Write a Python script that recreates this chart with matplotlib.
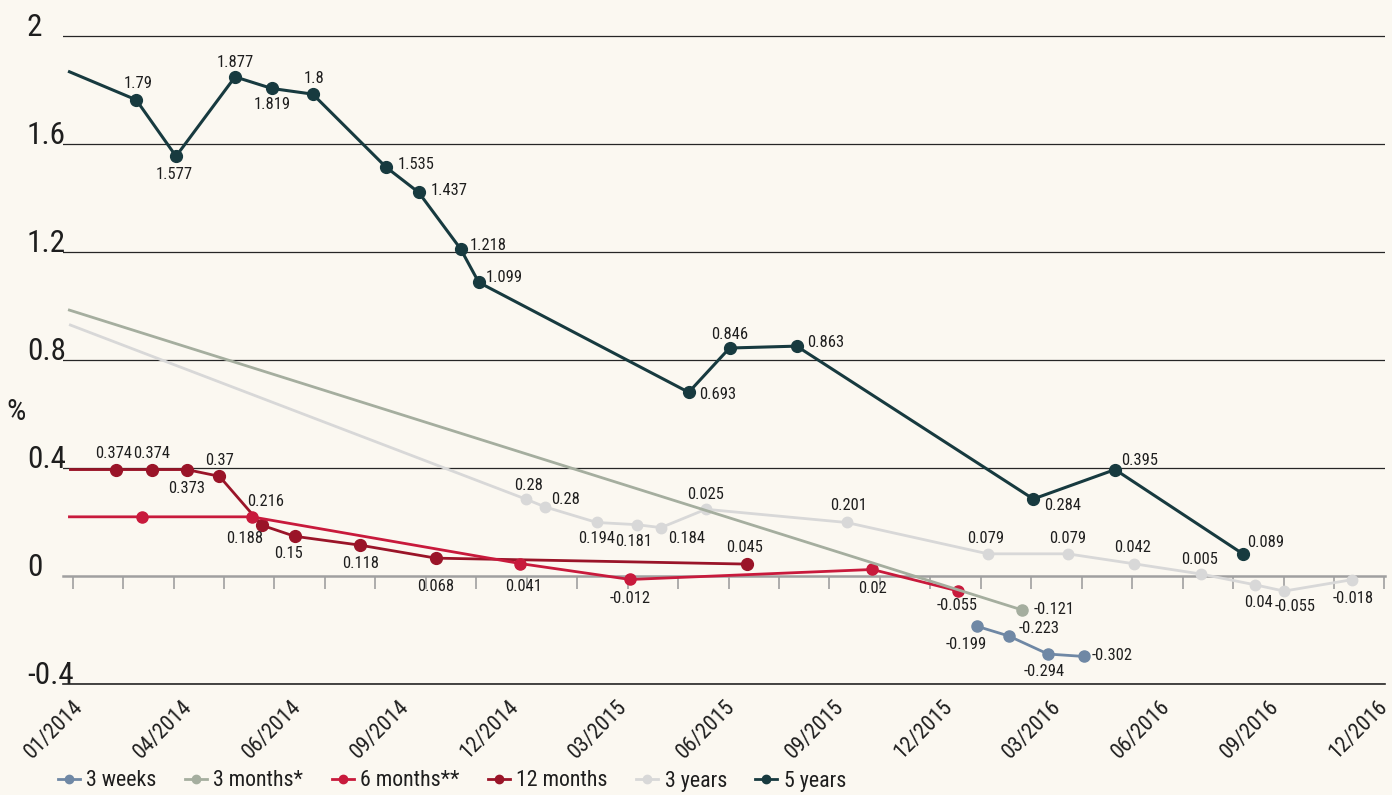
import os
import re
import numpy as np
import matplotlib
matplotlib.use("Agg")
import matplotlib.pyplot as plt
from matplotlib import font_manager
from matplotlib.font_manager import FontProperties
from matplotlib.textpath import TextToPath
from matplotlib.lines import Line2D


# the original uses a condensed face -> look for one, else plain Liberation Sans
def pick_font():
    entries = font_manager.fontManager.ttflist
    for want in ["Liberation Sans Narrow", "Roboto Condensed", "Open Sans Condensed"]:
        for f in entries:
            if f.name == want and f.style == "normal" and f.weight in (400, "normal", "regular"):
                return f.name, f.stretch
    skip = ("bold", "light", "medium", "thin", "black", "italic", "oblique", "cjk", "mono", "serif")
    for f in entries:
        base = os.path.basename(f.fname).lower()
        if any(s in base for s in skip) or "sans" not in base:
            continue
        if re.search(r"(?<!extra)(?<!semi)(?<!ultra)condensed", base) and f.style == "normal":
            return f.name, f.stretch
    return "Liberation Sans", "normal"


FONT, STRETCH = pick_font()
plt.rcParams.update({
    "font.family": FONT,
    "font.stretch": STRETCH,
    "text.color": "#1e1e1e",
    "xtick.color": "#1e1e1e",
    "ytick.color": "#1e1e1e",
})
# scale sizes by how wide this font's digits are vs a narrow face (~0.456 em)
_w = TextToPath().get_text_width_height_descent(
    "0123456789", FontProperties(family=FONT, stretch=STRETCH, size=10), ismath=False)[0]
K = min(1.0, (0.456 / (_w / 100)) ** 0.6)

BG = "#fbf8f1"
C_3W = "#6f88a5"
C_3M = "#a5ae9f"
C_6M = "#c81a3c"
C_12M = "#9a1428"
C_3Y = "#d8d8d8"
C_5Y = "#173a3f"

# x axis: 27 evenly spaced periods (0..26), 13 date labels spread over them
tick_labels = ["01/2014", "04/2014", "06/2014", "09/2014", "12/2014", "03/2015",
               "06/2015", "09/2015", "12/2015", "03/2016", "06/2016", "09/2016", "12/2016"]
y_ticks = [-0.4, 0, 0.4, 0.8, 1.2, 1.6, 2]
y_tick_labels = ["-0.4", "0", "0.4", "0.8", "1.2", "1.6", "2"]

# series: first point of most lines is the line start at the left edge (no marker)
x_3w = [17.92, 18.55, 19.33, 20.04]
y_3w = [-0.186, -0.222, -0.289, -0.298]
lab_3w = ["-0.199", "-0.223", "-0.294", "-0.302"]

x_3m = [-0.09, 18.82]
y_3m = [0.986, -0.126]
lab_3m = ["", "-0.121"]

x_6m = [-0.09, 1.37, 3.55, 8.87, 11.05, 15.85, 17.54]
y_6m = [0.219, 0.219, 0.219, 0.046, -0.013, 0.024, -0.055]
lab_6m = ["", "", "0.216", "0.041", "-0.012", "0.02", "-0.055"]

x_12m = [-0.07, 0.86, 1.57, 2.26, 2.91, 3.75, 4.40, 5.70, 7.20, 13.36]
y_12m = [0.394, 0.394, 0.394, 0.394, 0.369, 0.188, 0.147, 0.114, 0.066, 0.044]
lab_12m = ["", "0.374", "0.374", "0.373", "0.37", "0.188", "0.15", "0.118", "0.068", "0.045"]

x_3y = [-0.07, 8.99, 9.36, 10.39, 11.18, 11.66, 12.55, 15.34, 18.14, 19.72,
        21.04, 22.37, 23.44, 24.01, 25.35]
y_3y = [0.931, 0.284, 0.256, 0.198, 0.190, 0.179, 0.247, 0.198, 0.082, 0.082,
        0.045, 0.007, -0.033, -0.056, -0.014]
lab_3y = ["", "0.28", "0.28", "0.194", "0.181", "0.184", "0.025", "0.201", "0.079",
          "0.079", "0.042", "0.005", "0.04", "-0.055", "-0.018"]

x_5y = [-0.09, 1.26, 2.05, 3.22, 3.95, 4.76, 6.21, 6.86, 7.69, 8.05, 12.21, 13.02,
        14.35, 19.04, 20.66, 23.20]
y_5y = [1.869, 1.763, 1.554, 1.848, 1.805, 1.784, 1.514, 1.420, 1.211, 1.087, 0.680,
        0.844, 0.851, 0.285, 0.394, 0.081]
lab_5y = ["", "1.79", "1.577", "1.877", "1.819", "1.8", "1.535", "1.437", "1.218",
          "1.099", "0.693", "0.846", "0.863", "0.284", "0.395", "0.089"]

# label placement (pixel offsets from the point, 'c' centred / 'l' to the right)
pos_3w = [(-11, -18, "c"), (10, 7, "l"), (-4, -17, "c"), (8, 1, "l")]
pos_3m = [None, (11, 0, "l")]
pos_6m = [None, None, (14, 15, "c"), (3, -23, "c"), (0, -19, "c"), (0, -19, "c"), (0, -15, "c")]
pos_12m = [None, (-2, 16, "c"), (0, 16, "c"), (0, -19, "c"), (0, 16, "c"), (-17, -13, "c"),
           (-6, -17, "c"), (0, -18, "c"), (0, -28, "c"), (-2, 17, "c")]
pos_3y = [None, (2, 14, "c"), (6, 7, "l"), (0, -16, "c"), (-3, -17, "c"), (7, -11, "l"),
          (0, 15, "c"), (2, 17, "c"), (-2, 15, "c"), (0, 15, "c"), (-2, 16, "c"),
          (-2, 15, "c"), (3, -18, "c"), (11, -15, "c"), (1, -19, "c")]
pos_5y = [None, (2, 16, "c"), (-2, -18, "c"), (0, 14, "c"), (0, -16, "c"), (1, 16, "c"),
          (12, 3, "l"), (12, 2, "l"), (9, 3, "l"), (7, 5, "l"), (10, -2, "l"),
          (0, 14, "c"), (10, 4, "l"), (11, -7, "l"), (6, 9, "l"), (4, 12, "l")]

W, H = 1392, 795
fig = plt.figure(figsize=(W / 100, H / 100), dpi=100, facecolor=BG)
ax = fig.add_axes([63 / W, 111 / H, 1322 / W, 649 / H], facecolor=BG)

series = [
    ("5 years", x_5y, y_5y, lab_5y, pos_5y, C_5Y, 2.2, 8.5, 1, 3),
    ("3 years", x_3y, y_3y, lab_3y, pos_3y, C_3Y, 2.0, 7.5, 1, 3),
    ("12 months", x_12m, y_12m, lab_12m, pos_12m, C_12M, 2.0, 8.5, 1, 3.1),
    ("6 months**", x_6m, y_6m, lab_6m, pos_6m, C_6M, 2.0, 8.0, 1, 3.2),
    ("3 months*", x_3m, y_3m, lab_3m, pos_3m, C_3M, 2.0, 8.0, 1, 3.3),
    ("3 weeks", x_3w, y_3w, lab_3w, pos_3w, C_3W, 2.0, 8.0, 0, 3.4),
]

for name, xs, ys, labs, poss, col, lw, ms, start, z in series:
    ax.plot(xs, ys, color=col, lw=lw, marker="o", ms=ms, markevery=slice(start, None),
            zorder=z, solid_capstyle="butt")
    for xv, yv, lab, p in zip(xs, ys, labs, poss):
        if p is None:
            continue
        dx, dy, h = p
        ax.annotate(lab, (xv, yv), xytext=(dx, dy), textcoords="offset pixels",
                    ha="left" if h == "l" else "center", va="center",
                    fontsize=12.5 * K, zorder=6)

ax.set_xlim(-0.19, 26.01)
ax.set_ylim(-0.4, 2.003)

# y grid + labels sitting on the lines
ax.set_yticks(y_ticks, labels=y_tick_labels, ha="left", va="baseline")
ax.tick_params(axis="y", length=0, pad=26, labelsize=23.5 * K)
ax.yaxis.grid(True, color="#262626", lw=0.9)
ax.get_ygridlines()[1].set_visible(False)
ax.set_axisbelow(True)

ax.set_xticks(np.linspace(0, 25.85, 13), labels=tick_labels, rotation=45, ha="right",
              va="top", rotation_mode="anchor")
ax.tick_params(axis="x", length=0, pad=9, labelsize=16.5 * K)

for s in ["top", "right", "left"]:
    ax.spines[s].set_visible(False)
ax.spines["bottom"].set_color("#262626")
ax.spines["bottom"].set_linewidth(1.2)

# zero line with period ticks
zero = ax.secondary_xaxis(0.4 / 2.4)
zero.set_xticks(range(27))
zero.tick_params(length=9, width=1.2, color="#a0a0a0", labelbottom=False, direction="out")
zero.spines["bottom"].set_color("#a0a0a0")
zero.spines["bottom"].set_linewidth(1.8)

fig.text(16 / W, 1 - 412 / H, "%", ha="center", va="center", fontsize=23 * K)

handles = [Line2D([], [], color=c, lw=2, marker="o", ms=6) for c in
           [C_3W, C_3M, C_6M, C_12M, C_3Y, C_5Y]]
fig.legend(handles, ["3 weeks", "3 months*", "6 months**", "12 months", "3 years", "5 years"],
           loc="center left", bbox_to_anchor=(58 / W, 1 - 781 / H), ncol=6, frameon=False,
           fontsize=16.5 * K, handlelength=1.0, handletextpad=0.3, columnspacing=1.3,
           borderaxespad=0, borderpad=0)

fig.savefig("out.png", dpi=100, facecolor=BG)
